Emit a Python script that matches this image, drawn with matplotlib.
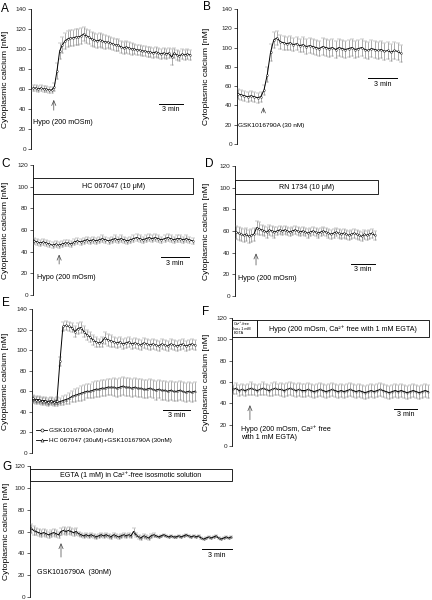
import numpy as np
import matplotlib.pyplot as plt
from matplotlib.patches import Rectangle

plt.rcParams['font.family'] = ['Liberation Sans', 'DejaVu Sans']

# ---- data (cytoplasmic calcium, nM) ----
# A: hypotonic 200 mOsm, dt = 1/3 min
a_val = [61, 61, 60, 61, 60, 60, 59, 59, 62, 78, 98, 104, 108, 110, 111, 111, 112, 112,
         113, 115, 113, 112, 110, 109, 108, 109, 108, 107, 107, 106, 105, 104, 104, 102,
         101, 102, 101, 100, 100, 99, 99, 98, 98, 97, 97, 96, 97, 96, 95, 96, 95, 96,
         92, 96, 94, 93, 95, 94, 95, 94]
a_err = [3, 3, 3, 3, 3, 3, 3, 3, 4, 8, 8, 8, 8, 8, 8, 8, 8, 8,
         8, 7, 7, 7, 7, 7, 7, 7, 7, 7, 6, 6, 6, 6, 6, 6,
         6, 6, 6, 6, 5, 5, 5, 5, 5, 5, 5, 5, 5, 5, 5, 5, 5, 5,
         8, 5, 5, 5, 5, 5, 5, 5]

# B: GSK1016790A 30 nM
b_val = [52, 51, 50, 49, 50, 49, 48, 49, 56, 72, 95, 108, 110, 106, 105, 104, 105, 103,
         104, 102, 103, 101, 102, 101, 100, 99, 101, 100, 99, 100, 98, 100, 99, 98, 99,
         100, 98, 99, 100, 98, 97, 99, 98, 97, 98, 96, 97, 95, 97, 96, 94]
b_err = [5, 5, 5, 5, 5, 5, 5, 5, 5, 8, 9, 8, 7, 7, 7, 7, 7, 7,
         7, 7, 8, 8, 8, 8, 8, 8, 9, 9, 9, 9, 9, 9, 9, 9, 9,
         9, 9, 9, 9, 9, 9, 9, 9, 9, 9, 9, 9, 9, 9, 9, 9]

# C: HC 067047 10 uM + hypo
c_val = [50, 49, 48, 49, 48, 47, 46, 47, 46, 47, 48, 48, 47, 49, 50, 49, 50, 51, 50,
         51, 50, 51, 52, 51, 50, 51, 52, 51, 52, 51, 50, 51, 52, 53, 52, 51, 52, 53,
         52, 53, 52, 51, 52, 53, 52, 51, 52, 52, 51, 52, 51, 50]
c_err = [3, 3, 3, 3, 3, 3, 3, 3, 3, 3, 3, 3, 3, 3, 3, 3, 3, 3, 3,
         3, 3, 3, 3, 3, 3, 3, 3, 3, 3, 3, 3, 3, 3, 3, 3, 3, 3, 3,
         3, 3, 3, 3, 3, 3, 3, 3, 3, 3, 3, 3, 3, 3]

# D: RN 1734 10 uM + hypo
d_val = [59, 58, 57, 56, 57, 55, 56, 57, 63, 62, 61, 60, 59, 61, 60, 59, 60, 61, 60,
         61, 60, 59, 60, 61, 60, 59, 60, 59, 58, 59, 60, 59, 58, 59, 60, 59, 58, 57,
         58, 59, 58, 57, 58, 57, 56, 57, 58, 57, 56, 55, 57, 56, 57, 58, 56]
d_err = [6, 6, 6, 6, 6, 6, 6, 6, 6, 6, 5, 5, 5, 5, 5, 5, 4, 4, 4,
         4, 4, 4, 4, 4, 4, 4, 4, 4, 4, 4, 4, 4, 4, 4, 4, 4, 4, 4,
         4, 4, 4, 4, 4, 4, 4, 4, 4, 4, 4, 4, 4, 4, 4, 4, 4]

# E: GSK alone (circles) vs HC 067047 + GSK (triangles)
e1_val = [53, 52, 52, 51, 51, 50, 51, 50, 51, 89, 123, 124, 123, 122, 118, 121, 122,
          118, 115, 113, 110, 108, 107, 108, 112, 110, 109, 108, 107, 108, 106, 107,
          108, 106, 107, 106, 105, 107, 106, 105, 106, 105, 104, 106, 105, 104, 106,
          105, 104, 105, 106, 104, 105, 106, 105]
e1_err = [3, 3, 3, 3, 3, 3, 3, 3, 3, 4, 4, 4, 4, 4, 5, 5, 5,
          5, 5, 5, 5, 5, 4, 5, 6, 6, 6, 5, 5, 5, 5, 5,
          5, 5, 5, 5, 5, 5, 5, 5, 5, 5, 5, 5, 5, 5, 5,
          5, 5, 5, 5, 5, 5, 5, 5]
e2_val = [52, 51, 51, 50, 50, 49, 50, 49, 49, 50, 51, 52, 53, 55, 56, 57, 58, 59, 60,
          60, 61, 62, 62, 63, 63, 64, 64, 64, 63, 64, 65, 64, 64, 63, 64, 63, 63, 62,
          62, 63, 62, 61, 62, 61, 61, 60, 61, 60, 60, 61, 60, 59, 60, 59, 60]
e2_err = [3, 3, 3, 3, 3, 3, 3, 3, 3, 3, 4, 4, 5, 5, 6, 6, 7, 7, 7,
          7, 8, 8, 8, 8, 8, 8, 8, 9, 9, 9, 9, 9, 9, 9, 9, 9, 9, 9,
          9, 9, 9, 9, 9, 9, 9, 9, 9, 9, 9, 9, 9, 9, 9, 9, 9]

# F: Ca2+-free hypo with 1 mM EGTA
f_val = [53, 54, 52, 53, 52, 53, 54, 53, 52, 53, 54, 53, 52, 53, 54, 53, 53, 52, 53,
         54, 53, 52, 53, 52, 52, 53, 52, 51, 52, 53, 52, 51, 52, 53, 52, 51, 52, 51,
         52, 53, 52, 51, 52, 51, 50, 51, 52, 51, 52, 53, 52, 51, 50, 51, 52, 51, 52,
         51, 50, 51, 52, 51, 50, 51, 52, 51]
f_err = [4, 5, 5, 5, 5, 5, 6, 5, 5, 5, 6, 5, 5, 6, 6, 5, 6, 6, 6,
         6, 6, 6, 6, 6, 6, 6, 6, 6, 6, 6, 6, 6, 6, 6, 6, 6, 6, 6,
         6, 6, 6, 6, 6, 6, 6, 6, 6, 6, 6, 6, 6, 6, 6, 6, 6, 6, 6,
         6, 6, 6, 6, 6, 6, 6, 6, 6]

# G: EGTA 1 mM in Ca2+-free isosmotic + GSK, dt = 1/4 min
g_val = [63, 61, 60, 59, 58, 59, 58, 57, 58, 59, 58, 57, 60, 61, 60, 61, 60, 59, 60, 58,
         57, 56, 57, 56, 57, 56, 55, 56, 57, 56, 57, 56, 55, 57, 56, 55, 56, 57, 56, 57,
         56, 60, 57, 55, 54, 56, 55, 54, 56, 57, 56, 55, 56, 57, 56, 55, 56, 55, 55, 56,
         55, 56, 57, 56, 55, 56, 55, 56, 54, 53, 54, 55, 54, 55, 56, 54, 53, 54, 55, 54, 55]
g_err = [4, 4, 3, 3, 3, 3, 3, 3, 3, 3, 3, 3, 3, 3, 3, 3, 3, 3, 3, 2,
         2, 2, 2, 2, 2, 2, 2, 2, 2, 2, 2, 2, 2, 2, 2, 2, 2, 2, 2, 2,
         2, 3, 2, 2, 2, 2, 2, 2, 2, 2, 1, 1, 1, 1, 1, 1, 1, 1, 1, 1,
         1, 1, 1, 1, 1, 1, 1, 1, 1, 1, 1, 1, 1, 1, 1, 1, 1, 1, 1, 1, 1]

W, H = 432, 600
fig = plt.figure(figsize=(W / 100, H / 100), dpi=100)

TICK_FS = 4.6
TXT_FS = 5.1
GRAY = '#7f7f7f'


def panel(left, top, right, bottom, ymax, xlim):
    ax = fig.add_axes([left / W, 1 - bottom / H, (right - left) / W, (bottom - top) / H])
    ax.set_ylim(0, ymax)
    ax.set_xlim(*xlim)
    for s in ['top', 'right', 'bottom']:
        ax.spines[s].set_visible(False)
    ax.spines['left'].set_linewidth(0.6)
    ax.set_xticks([])
    ax.set_yticks(np.arange(0, ymax + 1, 20))
    ax.tick_params(axis='y', direction='out', length=2, width=0.5, pad=1.5,
                   labelsize=TICK_FS, colors='#222222')
    ax.patch.set_alpha(0)
    return ax


def trace(ax, t, v, e, marker='s', ms=1.0, lw=0.7):
    ax.errorbar(t, v, yerr=e, color='black', ecolor=GRAY, elinewidth=0.45,
                capsize=1.1, capthick=0.45, lw=lw, marker=marker, ms=ms,
                mfc='white', mec='black', mew=0.3, zorder=3)


def scalebar(ax, x0, y):
    ax.plot([x0, x0 + 3], [y, y], color='black', lw=0.7, clip_on=False)
    ax.text(x0 + 1.5, y - 2.5, '3 min', ha='center', va='top', fontsize=TXT_FS)


def arrow(ax, x, tip, tail):
    ax.annotate('', xy=(x, tip), xytext=(x, tail),
                arrowprops=dict(arrowstyle='->,head_length=0.35,head_width=0.15',
                                lw=0.5, color='#444444'))


def box(ax, x0, x1, y0, y1, label, fs=TXT_FS):
    ax.add_patch(Rectangle((x0, y0), x1 - x0, y1 - y0, fill=True, fc='white',
                           ec='black', lw=0.6, clip_on=False, zorder=4))
    return ax.text((x0 + x1) / 2, (y0 + y1) / 2, label, ha='center', va='center',
                   fontsize=fs, zorder=5)


def ylab(xpx, top, bottom):
    fig.text(xpx / W, 1 - (top + bottom) / 2 / H, 'Cytoplasmic calcium [nM]',
             rotation=90, ha='center', va='center', fontsize=6.1)


def letter(xpx, ypx, s):
    fig.text(xpx / W, 1 - ypx / H, s, ha='left', va='top', fontsize=8.5)


# ---- A ----
ax = panel(31, 9, 200, 149, 140, (-0.25, 20.9))
t = np.arange(len(a_val)) / 3
trace(ax, t, a_val, a_err)
scalebar(ax, 15.75, 45)
arrow(ax, 2.6, 52, 36)
ax.text(0.0, 27, 'Hypo (200 mOSm)', fontsize=TXT_FS, va='center')
ylab(6, 9, 149)
letter(1, 3, 'A')

# ---- B ----
ax = panel(237, 9, 405, 144, 140, (-0.1, 17.1))
t = np.arange(len(b_val)) / 3
trace(ax, t, b_val, b_err)
scalebar(ax, 13.3, 68)
arrow(ax, 2.6, 41, 30)
ax.text(0.0, 19, 'GSK1016790A (30 nM)', fontsize=4.6, va='center')
ylab(206, 9, 144)
letter(203, 1, 'B')

# ---- C ----
ax = panel(33, 165, 200, 295, 120, (-0.1, 17.8))
t = np.arange(len(c_val)) / 3
trace(ax, t, c_val, c_err)
box(ax, -0.1, 17.1, 93, 108, 'HC 067047 (10 μM)')
scalebar(ax, 13.6, 35)
arrow(ax, 2.7, 40, 26)
ax.text(0.3, 16, 'Hypo (200 mOsm)', fontsize=TXT_FS, va='center')
ylab(6, 165, 295)
letter(1, 158, 'C')

# ---- D ----
ax = panel(235, 166, 400, 296, 120, (-0.13, 21.3))
t = np.arange(len(d_val)) / 3
trace(ax, t, d_val, d_err)
box(ax, -0.13, 18.4, 94, 107, 'RN 1734 (10 μM)')
scalebar(ax, 15.0, 30)
arrow(ax, 2.6, 42, 26)
ax.text(0.2, 16, 'Hypo (200 mOsm)', fontsize=TXT_FS, va='center')
ylab(207, 166, 296)
letter(205, 158, 'D')

# ---- E ----
ax = panel(32, 309, 200, 453, 140, (-0.11, 18.6))
t = np.arange(len(e1_val)) / 3
trace(ax, t, e2_val, e2_err, marker='^', ms=1.3)
trace(ax, t, e1_val, e1_err, marker='o', ms=1.3)
scalebar(ax, 14.5, 42)
ax.errorbar([], [], color='black', lw=0.6, marker='o', ms=2.2, mfc='white', mec='black',
            mew=0.4, label='GSK1016790A (30nM)')
ax.errorbar([], [], color='black', lw=0.6, marker='^', ms=2.2, mfc='white', mec='black',
            mew=0.4, label='HC 067047 (30uM)+GSK1016790A (30nM)')
ax.legend(loc='lower left', bbox_to_anchor=(0.0, 0.04), frameon=False, fontsize=4.6,
          handlelength=1.6, handletextpad=0.3, labelspacing=0.6, borderpad=0.2)
ylab(6, 309, 453)
letter(2, 297, 'E')

# ---- F ----
ax = panel(232, 318, 432, 446, 120, (-0.13, 25.85))
t = np.arange(len(f_val)) * 0.39
trace(ax, t, f_val, f_err, ms=0.8)
small = box(ax, -0.13, 3.1, 102, 118, 'Ca²⁺-free\nIso+ 1 mM\nEGTA', fs=2.7)
small.set_ha('left')
small.set_x(0.05)
box(ax, 3.1, 25.5, 102, 118, 'Hypo (200 mOsm, Ca²⁺ free with 1 mM EGTA)')
scalebar(ax, 20.9, 35)
arrow(ax, 2.2, 41, 22)
ax.text(1.1, 12, 'Hypo (200 mOsm, Ca²⁺ free\nwith 1 mM EGTA)', fontsize=TXT_FS,
        va='center', linespacing=1.3)
ylab(207, 318, 446)
letter(202, 306, 'F')

# ---- G ----
ax = panel(30, 466, 236, 597, 120, (-0.1, 20.5))
t = np.arange(len(g_val)) / 4
trace(ax, t, g_val, g_err, ms=0.8)
box(ax, -0.1, 20.1, 106, 117, 'EGTA (1 mM) in Ca²⁺-free isosmotic solution')
scalebar(ax, 17.1, 44)
arrow(ax, 3.0, 52, 34)
ax.text(0.6, 22, 'GSK1016790A  (30nM)', fontsize=TXT_FS, va='center')
ylab(7, 466, 597)
letter(2, 461, 'G')

fig.savefig('out.png', dpi=100)
